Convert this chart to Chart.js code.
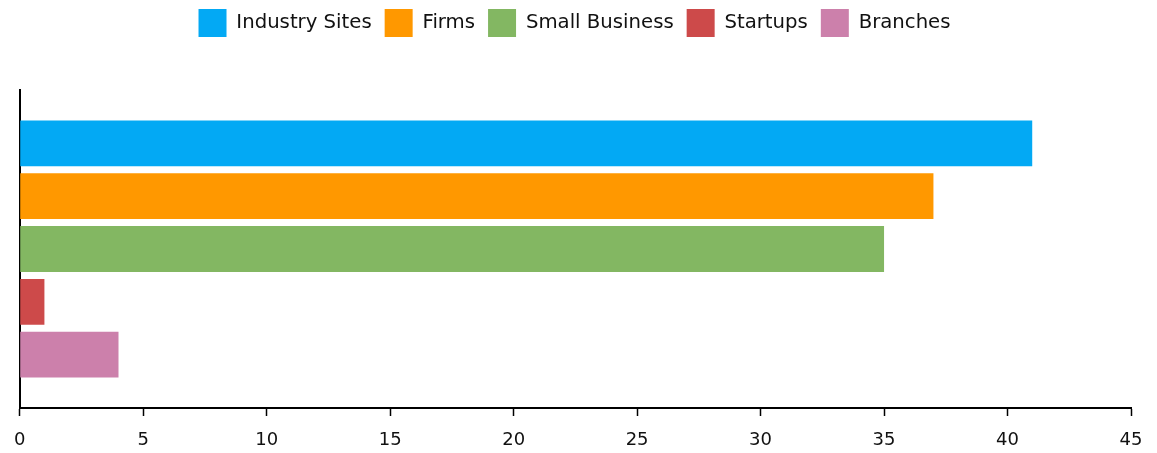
<!DOCTYPE html>
<html>
<head>
<meta charset="utf-8">
<script src="https://cdn.jsdelivr.net/npm/chart.js@4/dist/chart.umd.min.js"></script>
<style>
  html, body { margin: 0; padding: 0; background: #fff; }
  #wrap { width: 1157px; height: 453px; }
</style>
</head>
<body>
<div id="wrap"><canvas id="chart"></canvas></div>
<script>
const categories = [""];
const seriesNames = ["Industry Sites", "Firms", "Small Business", "Startups", "Branches"];
const seriesValues = [[41], [37], [35], [1], [4]];
const seriesColors = ["#03A9F4", "#FF9800", "#83B762", "#CD4A4A", "#CC80AB"];
const tickValues = [0, 5, 10, 15, 20, 25, 30, 35, 40, 45];

Chart.defaults.font.family = "'DejaVu Sans', sans-serif";
Chart.defaults.color = "#111";

const datasets = seriesNames.map((name, i) => ({
  label: name,
  data: seriesValues[i],
  backgroundColor: seriesColors[i],
  borderWidth: 0,
  categoryPercentage: 0.83,
  barPercentage: 0.868,
}));

new Chart(document.getElementById("chart"), {
  type: "bar",
  data: { labels: categories, datasets: datasets },
  options: {
    indexAxis: "y",
    responsive: true,
    maintainAspectRatio: false,
    animation: false,
    layout: { padding: { left: 18, right: 26, top: -4, bottom: 0 } },
    plugins: {
      legend: {
        position: "top",
        labels: {
          boxWidth: 28,
          boxHeight: 28,
          padding: 13,
          font: { size: 19.7 },
          color: "#111",
        },
      },
      tooltip: { enabled: false },
    },
    scales: {
      x: {
        min: 0,
        max: 45,
        afterBuildTicks: (axis) => {
          axis.ticks = tickValues.map((v) => ({ value: v }));
        },
        afterFit: (axis) => {
          axis.height = 45;
        },
        grid: {
          drawOnChartArea: false,
          drawTicks: true,
          tickLength: 8,
          color: "#000",
          tickWidth: 1.5,
        },
        border: { display: true, color: "#000", width: 2 },
        ticks: { font: { size: 18 }, color: "#111", padding: 14, maxRotation: 0 },
      },
      y: {
        grid: { drawOnChartArea: false, drawTicks: false },
        border: { display: true, color: "#000", width: 2 },
        ticks: { display: false },
      },
    },
  },
  plugins: [{
    id: "legendGap",
    beforeInit(chart) {
      const orig = chart.legend.fit;
      chart.legend.fit = function () {
        orig.bind(chart.legend)();
        this.height += 43;
      };
    },
  }],
});
</script>
</body>
</html>
